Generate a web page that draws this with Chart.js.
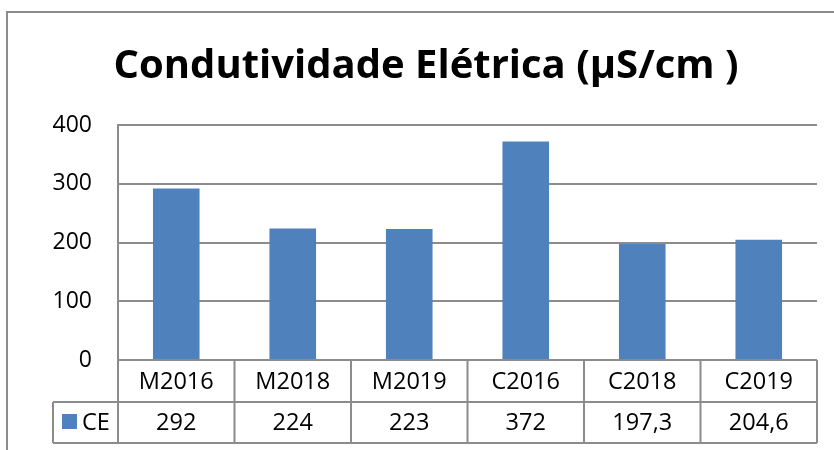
<!DOCTYPE html>
<html>
<head>
<meta charset="utf-8">
<script src="https://cdn.jsdelivr.net/npm/chart.js@4"></script>
<style>
  html, body { margin: 0; padding: 0; background: #fff; }
  #wrap { width: 834px; height: 450px; position: relative; }
</style>
</head>
<body>
<div id="wrap"><canvas id="ceChart"></canvas></div>
<script>
var categories = ['M2016', 'M2018', 'M2019', 'C2016', 'C2018', 'C2019'];
var ceValues = [292, 224, 223, 372, 197.3, 204.6];
var seriesName = 'CE';
var yTicks = [0, 100, 200, 300, 400];
var chartTitle = 'Condutividade Elétrica (µS/cm )';

var barColor = '#4F81BD';
var lineColor = '#8c8c8c';
var txtFont = '23.5px "Open Sans"';

// frame + title + data table, drawn around the bar area
var excelBits = {
    id: 'excelBits',
    beforeDraw: function (chart) {
        var c = chart.ctx;
        c.save();
        c.strokeStyle = lineColor;
        c.lineWidth = 2;
        c.strokeRect(7, 12, 1000, 1000);
        c.fillStyle = '#000';
        c.font = 'bold 40px "Open Sans"';
        c.textAlign = 'center';
        c.textBaseline = 'alphabetic';
        c.fillText(chartTitle, 426, 78);
        c.restore();
    },
    afterDraw: function (chart) {
        var c = chart.ctx;
        var a = chart.chartArea;
        var x = chart.scales.x;
        var n = categories.length;
        var w = (a.right - a.left) / n;
        var row1 = a.bottom, row2 = a.bottom + 42, row3 = a.bottom + 83;
        var legLeft = 53;
        c.save();
        c.strokeStyle = lineColor;
        c.lineWidth = 2;
        c.beginPath();
        c.moveTo(a.left, row1); c.lineTo(a.right, row1);
        c.moveTo(legLeft, row2); c.lineTo(a.right, row2);
        c.moveTo(legLeft, row3); c.lineTo(a.right, row3);
        c.moveTo(legLeft, row2); c.lineTo(legLeft, row3);
        for (var i = 0; i <= n; i++) {
            var bx = a.left + i * w;
            c.moveTo(bx, i === 0 ? a.top : row1);
            c.lineTo(bx, row3);
        }
        c.stroke();

        c.fillStyle = '#000';
        c.font = txtFont;
        c.textAlign = 'center';
        c.textBaseline = 'middle';
        for (var j = 0; j < n; j++) {
            var cx = x.getPixelForValue(j);
            c.fillText(categories[j], cx, (row1 + row2) / 2 + 1);
            c.fillText(String(ceValues[j]).replace('.', ','), cx, (row2 + row3) / 2 + 1);
        }
        // legend key
        c.fillStyle = barColor;
        c.fillRect(62, 414, 15, 15);
        c.fillStyle = '#000';
        c.textAlign = 'left';
        c.fillText(seriesName, 82, (row2 + row3) / 2 + 1);
        c.restore();
    }
};

var ctx = document.getElementById('ceChart').getContext('2d');
var ceChart = new Chart(ctx, {
    type: 'bar',
    data: {
        labels: categories,
        datasets: [{
            label: seriesName,
            data: ceValues,
            backgroundColor: barColor,
            categoryPercentage: 1,
            barPercentage: 0.4
        }]
    },
    options: {
        responsive: true,
        maintainAspectRatio: false,
        animation: false,
        layout: { padding: { top: 125, right: 17, bottom: 90, left: 0 } },
        plugins: {
            legend: { display: false },
            title: { display: false },
            tooltip: { enabled: false }
        },
        scales: {
            x: { display: false },
            y: {
                min: 0,
                max: 400,
                afterBuildTicks: function (s) {
                    s.ticks = yTicks.map(function (v) { return { value: v }; });
                },
                afterFit: function (s) { s.width = 118; },
                ticks: { color: '#000', font: { family: 'Open Sans', size: 23 }, padding: 26 },
                grid: { color: lineColor, lineWidth: 2, drawTicks: false },
                border: { color: lineColor, width: 2 }
            }
        }
    },
    plugins: [excelBits]
});
</script>
</body>
</html>
